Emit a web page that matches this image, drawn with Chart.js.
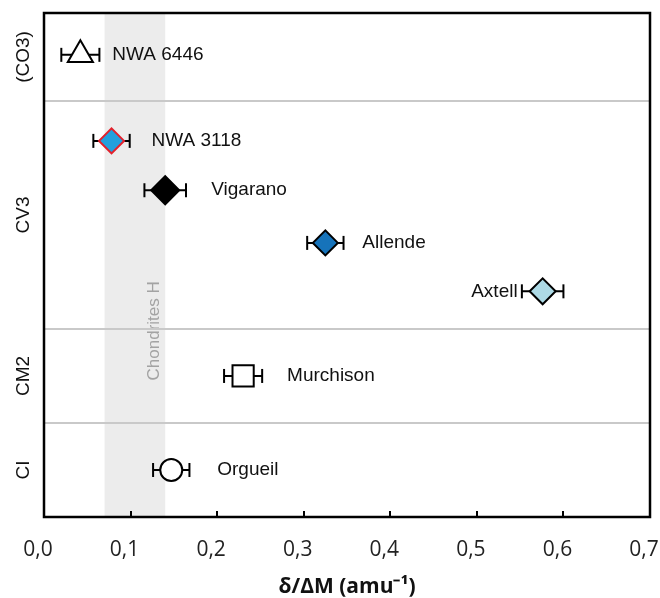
<!DOCTYPE html>
<html>
<head>
<meta charset="utf-8">
<script src="https://cdn.jsdelivr.net/npm/chart.js@4.4.1/dist/chart.umd.min.js"></script>
<style>
  html, body { margin: 0; padding: 0; background: #ffffff; }
  canvas { display: block; }
</style>
</head>
<body>
<canvas id="chart" width="660" height="598"></canvas>
<script>
// Meteorite samples: mass-dependent fractionation δ/ΔM (amu⁻¹) with its uncertainty
const samples = ['NWA 6446', 'NWA 3118', 'Vigarano', 'Allende', 'Axtell', 'Murchison', 'Orgueil'];
const deltaValues = [0.042, 0.078, 0.140, 0.325, 0.576, 0.230, 0.147];
const deltaErrors = [0.022, 0.021, 0.024, 0.021, 0.024, 0.022, 0.021];
// Row of each sample on the vertical (group) axis
const sampleRows = [9.83, 8.0, 6.95, 5.83, 4.8, 3.0, 1.0];

// Chondrite groups, bottom to top, and the row boundaries that enclose them
const groups = ['CI', 'CM2', 'CV3', '(CO3)'];
const groupBounds = [0, 2, 4, 8.85, 10.72];

// Range covered by H chondrites
const hChondriteRange = [0.07, 0.14];

// Horizontal axis ticks
const xTicks = [0, 0.1, 0.2, 0.3, 0.4, 0.5, 0.6, 0.7];

// ---- presentation ----
const markerStyle = [
  { shape: 'triangle', r: 14.5, fill: '#ffffff', edge: '#000000' },
  { shape: 'rectRot',  r: 12.5, fill: '#22a0dd', edge: '#e3202b' },
  { shape: 'rectRot',  r: 14,   fill: '#000000', edge: '#000000' },
  { shape: 'rectRot',  r: 12.5, fill: '#1673ba', edge: '#000000' },
  { shape: 'rectRot',  r: 13,   fill: '#addae6', edge: '#000000' },
  { shape: 'rect',     r: 15,   fill: '#ffffff', edge: '#000000' },
  { shape: 'circle',   r: 11,   fill: '#ffffff', edge: '#000000' }
];
// Name label offset from the marker, in pixels
const labelPlacement = [
  { dx: 32, align: 'left' },
  { dx: 40, align: 'left' },
  { dx: 46, align: 'left' },
  { dx: 37, align: 'left' },
  { dx: -25, align: 'right' },
  { dx: 44, align: 'left' },
  { dx: 46, align: 'left' }
];
const bandCaption = { text: 'Chondrites H', x: 0.127, y: 3.96 };

const SANS = '"Liberation Sans", Arial, sans-serif';
const TICK_FONT = '"Open Sans", sans-serif';

const fmt = v => v.toFixed(1).replace('.', ',');

// Group separators, error bars and markers as datasets
const separatorSets = groupBounds.slice(1, -1).map(b => ({
  data: [{ x: xTicks[0], y: b }, { x: xTicks[xTicks.length - 1], y: b }],
  showLine: true,
  borderColor: '#c9c9c9',
  borderWidth: 2,
  pointRadius: 0,
  order: 30
}));

const errorSets = samples.map((s, i) => ({
  data: [
    { x: deltaValues[i] - deltaErrors[i], y: sampleRows[i] },
    { x: deltaValues[i] + deltaErrors[i], y: sampleRows[i] }
  ],
  showLine: true,
  borderColor: '#000000',
  borderWidth: 2,
  pointStyle: 'line',
  rotation: 90,
  pointRadius: 7,
  pointBorderWidth: 2,
  pointBorderColor: '#000000',
  order: 20
}));

const markerSet = {
  data: samples.map((s, i) => ({ x: deltaValues[i], y: sampleRows[i] })),
  pointStyle: markerStyle.map(m => m.shape),
  pointRadius: markerStyle.map(m => m.r),
  pointBackgroundColor: markerStyle.map(m => m.fill),
  pointBorderColor: markerStyle.map(m => m.edge),
  pointBorderWidth: 2,
  order: 0
};

const decorations = {
  id: 'decorations',
  beforeDatasetsDraw(chart) {
    const { ctx, chartArea: a, scales: { x, y } } = chart;
    ctx.save();
    // H chondrite band
    const x0 = x.getPixelForValue(hChondriteRange[0]);
    const x1 = x.getPixelForValue(hChondriteRange[1]);
    ctx.fillStyle = '#ececec';
    ctx.fillRect(x0, a.top, x1 - x0, a.bottom - a.top);
    // band caption
    ctx.translate(x.getPixelForValue(bandCaption.x), y.getPixelForValue(bandCaption.y));
    ctx.rotate(-Math.PI / 2);
    ctx.font = '17px ' + SANS;
    ctx.fillStyle = '#a3a3a3';
    ctx.textAlign = 'center';
    ctx.textBaseline = 'middle';
    ctx.fillText(bandCaption.text, 0, 0);
    ctx.restore();
  },
  afterDatasetsDraw(chart) {
    const { ctx, chartArea: a, scales: { x, y } } = chart;
    ctx.save();
    // sample names
    ctx.font = '19px ' + SANS;
    ctx.fillStyle = '#111111';
    ctx.textBaseline = 'middle';
    samples.forEach((name, i) => {
      const p = labelPlacement[i];
      ctx.textAlign = p.align;
      ctx.fillText(name, x.getPixelForValue(deltaValues[i]) + p.dx, y.getPixelForValue(sampleRows[i]));
    });
    // inner tick marks on the horizontal axis
    ctx.strokeStyle = '#000000';
    ctx.lineWidth = 2;
    ctx.beginPath();
    xTicks.slice(1, -1).forEach(v => {
      const px = Math.round(x.getPixelForValue(v));
      ctx.moveTo(px, a.bottom);
      ctx.lineTo(px, a.bottom - 6);
    });
    ctx.stroke();
    // plot frame
    ctx.lineWidth = 2.5;
    ctx.strokeRect(a.left, a.top, a.right - a.left, a.bottom - a.top);
    ctx.restore();
  }
};

new Chart(document.getElementById('chart'), {
  type: 'scatter',
  data: { datasets: [markerSet, ...errorSets, ...separatorSets] },
  options: {
    responsive: false,
    animation: false,
    events: [],
    layout: { autoPadding: false, padding: { top: 13, right: 10, bottom: 0, left: 0 } },
    plugins: { legend: { display: false }, tooltip: { enabled: false } },
    scales: {
      x: {
        type: 'linear',
        min: xTicks[0],
        max: xTicks[xTicks.length - 1],
        grid: { display: false, drawTicks: false },
        border: { display: false },
        afterBuildTicks: s => { s.ticks = xTicks.map(v => ({ value: v })); },
        afterFit: s => { s.height = 81; s.paddingLeft = 0; s.paddingRight = 0; },
        ticks: {
          font: { family: TICK_FONT, size: 21 },
          color: '#222222',
          padding: 20,
          labelOffset: -6,
          maxRotation: 0,
          autoSkip: false,
          callback: v => fmt(v)
        },
        title: {
          display: true,
          text: 'δ/ΔM (amu⁻¹)',
          color: '#111111',
          font: { family: TICK_FONT, size: 21, weight: 'bold', lineHeight: 1 },
          padding: { top: 0, bottom: 0 }
        }
      },
      y: {
        type: 'linear',
        min: groupBounds[0],
        max: groupBounds[groupBounds.length - 1],
        grid: { display: false, drawTicks: false },
        border: { display: false },
        afterBuildTicks: s => {
          s.ticks = groups.map((g, i) => ({ value: (groupBounds[i] + groupBounds[i + 1]) / 2 }));
        },
        afterFit: s => { s.width = 44; s.paddingTop = 0; s.paddingBottom = 0; },
        ticks: {
          font: { family: SANS, size: 19 },
          color: '#111111',
          minRotation: 90,
          maxRotation: 90,
          crossAlign: 'center',
          padding: -6,
          autoSkip: false,
          callback: (v, i) => groups[i]
        }
      }
    }
  },
  plugins: [decorations]
});
</script>
</body>
</html>
